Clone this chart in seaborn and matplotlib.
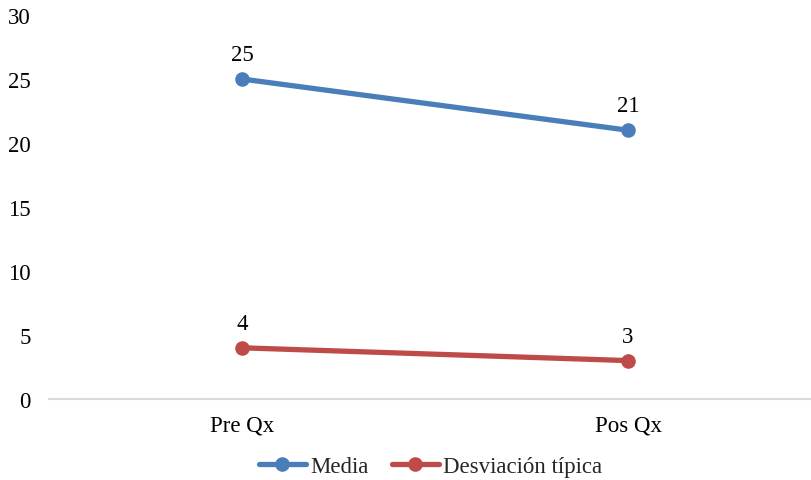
import matplotlib
matplotlib.use("Agg")
import matplotlib.pyplot as plt
import seaborn as sns
import pandas as pd
from matplotlib.lines import Line2D

categories = ["Pre Qx", "Pos Qx"]
media = [25, 21]
desviacion = [4, 3]
series_names = ["Media", "Desviación típica"]
colors = ["#4A7EBB", "#BE4B48"]

df = pd.DataFrame({
    "cat": categories * 2,
    "x": [0, 1, 0, 1],
    "val": media + desviacion,
    "serie": [series_names[0]] * 2 + [series_names[1]] * 2,
})

sns.set_theme(style="white")
plt.rcParams['font.family'] = ['Liberation Serif', 'DejaVu Serif']
FS = 16.5

fig = plt.figure(figsize=(8.11, 4.81), dpi=100)
ax = fig.add_axes([0.0604, 0.1684, 0.952, 0.7983])

sns.lineplot(data=df, x="x", y="val", hue="serie", palette=colors,
             marker="o", markersize=10.5, linewidth=3.8, markeredgewidth=0,
             ax=ax, legend=False)

for vals in (media, desviacion):
    for i, v in enumerate(vals):
        ax.annotate(str(v), (i, v), xytext=(0, 10), textcoords="offset points",
                    ha="center", va="bottom", fontsize=FS, color="#000000")

ax.set_xlim(-0.5, 1.5)
ax.set_ylim(0, 30)
ax.set_yticks(range(0, 31, 5))
ax.set_xticks([0, 1])
ax.set_xticklabels(categories)
ax.tick_params(axis='both', labelsize=FS, colors="#000000", length=0)
ax.tick_params(axis='y', pad=13)
ax.tick_params(axis='x', pad=11)
ax.set_xlabel("")
ax.set_ylabel("")
for s in ["top", "right", "left"]:
    ax.spines[s].set_visible(False)
ax.spines["bottom"].set_color("#D9D9D9")
ax.spines["bottom"].set_linewidth(1.5)
ax.grid(False)

handles = [Line2D([0], [0], color=c, lw=3.8, marker="o", markersize=10.5, markeredgewidth=0)
           for c in colors]
fig.legend(handles, series_names, loc="center", bbox_to_anchor=(0.531, 0.029),
           ncol=2, frameon=False, fontsize=FS, handlelength=2.05,
           handletextpad=0.2, columnspacing=1.0)

fig.savefig("out.png", dpi=100)
